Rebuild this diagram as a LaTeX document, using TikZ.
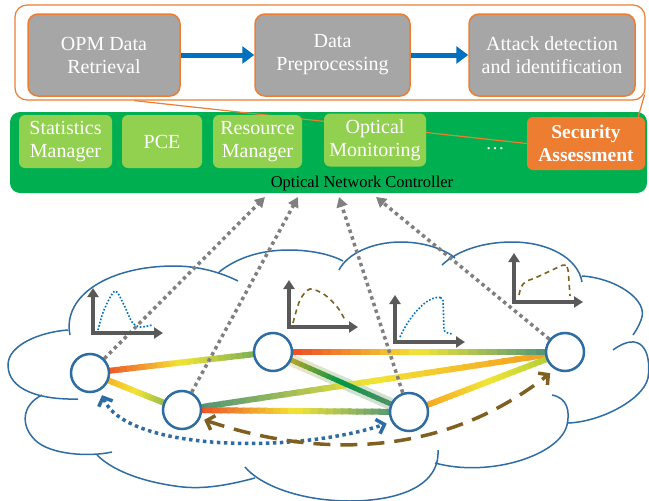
\documentclass[tikz,border=0pt]{standalone}
\usepackage{fontspec}
\setmainfont{Liberation Serif}
\usepackage{xcolor}
\usepackage{tikz}
\usetikzlibrary{positioning}
\usetikzlibrary{calc}
\usetikzlibrary{backgrounds}
\usetikzlibrary{arrows.meta}
\tikzset{>=stealth}
\definecolor{boxgray}{HTML}{A6A6A6}
\definecolor{secorange}{HTML}{ED7D31}
\definecolor{flowblue}{HTML}{0070C0}
\definecolor{ctrlgreen}{HTML}{00B050}
\definecolor{modgreen}{HTML}{92D050}
\definecolor{cloudblue}{HTML}{2E6CA4}
\definecolor{axisgray}{HTML}{595959}
\definecolor{tracebrown}{HTML}{7F6020}
\definecolor{dotgray}{HTML}{808080}
\definecolor{lkred}{HTML}{EE3124}
\definecolor{lkorange}{HTML}{F7941D}
\definecolor{lkyellow}{HTML}{F2E534}
\definecolor{lkgreen}{HTML}{5FA35C}
\definecolor{lkteal}{HTML}{3A8A80}
\definecolor{lklime}{HTML}{A3C93A}
\definecolor{lkgray}{HTML}{6E8F72}
\colorlet{haloorange}{lkorange!25}
\colorlet{halogreen}{lkgreen!30}
\colorlet{halogray}{lkgray!30}
\colorlet{blurorange}{lkorange!70!lkyellow}
\colorlet{blurgreen}{ctrlgreen!85!black}
\tikzstyle{graybox} = [draw=secorange, line width=1.5pt, fill=boxgray, rounded corners=10pt,
  text=white, align=center, font=\fontsize{20}{23}\selectfont, minimum height=82pt, inner sep=2pt]
\tikzstyle{modbox} = [fill=modgreen, rounded corners=6pt, text=white, align=center,
  font=\fontsize{20}{23}\selectfont, minimum height=53pt, inner sep=1pt]
\tikzstyle{secbox} = [modbox, fill=secorange, font=\bfseries\fontsize{19.5}{23}\selectfont]
\tikzstyle{netnode} = [circle, draw=cloudblue, line width=2.5pt, fill=white, minimum size=38pt, inner sep=0pt]
\tikzstyle{flow} = [draw=flowblue, line width=5pt, -{Triangle[length=12pt,width=17pt]}]
\tikzstyle{report} = [draw=dotgray, line width=3.5pt, dash pattern=on 3.5pt off 3.5pt,
  -{Triangle[length=10pt,width=11pt]}]
\tikzstyle{callout} = [draw=secorange, line width=1.2pt]
\tikzstyle{linkseg} = [line width=6pt]
\tikzstyle{plotaxes} = [draw=axisgray, line width=4pt, miter limit=10,
  {Triangle[length=9pt,width=11pt]}-{Triangle[length=9pt,width=11pt]}]
\tikzstyle{bluetrace} = [draw=flowblue, line width=1.6pt, dash pattern=on 1.6pt off 1.8pt]
\tikzstyle{browntrace} = [draw=tracebrown, line width=1.6pt, dash pattern=on 5pt off 4pt]
\tikzstyle{cloudline} = [draw=cloudblue, line width=1.5pt]
\tikzstyle{bluepath} = [draw=cloudblue, line width=3.5pt, dash pattern=on 3.5pt off 3.5pt,
  {Straight Barb[length=7pt,width=15pt]}-{Straight Barb[length=7pt,width=15pt]}]
\tikzstyle{brownpath} = [draw=tracebrown, line width=3.5pt, dash pattern=on 17pt off 10pt,
  {Straight Barb[length=7pt,width=15pt]}-{Straight Barb[length=7pt,width=15pt]}]

%% colour-graded link between two nodes (3 colour stops)
\newcommand{\gradlink}[6][]{%
  \foreach \k in {0,...,29}{%
    \pgfmathsetmacro\ta{\k/30}%
    \pgfmathsetmacro\tb{(\k+1.3)/30}%
    \ifnum\k<15
      \pgfmathtruncatemacro\pc{100-(\k+0.5)*100/15}%
      \colorlet{segc}{#4!\pc!#5}%
    \else
      \pgfmathtruncatemacro\pc{100-(\k-14.5)*100/15}%
      \colorlet{segc}{#5!\pc!#6}%
    \fi
    \draw[linkseg, draw=segc, #1] ($(#2)!\ta!(#3)$) -- ($(#2)!\tb!(#3)$);
  }}

\begin{document}
\begin{tikzpicture}[x=1pt, y=-1pt]
  \useasboundingbox (0,0) rectangle (649,501);
  %% Controller
  \node [fill=ctrlgreen, rounded corners=10pt, minimum width=637pt, minimum height=81pt] (ctrl) at (328.5,152.5) {};
  \node [font=\fontsize{16.5}{18}\selectfont] (ctrlname) at (362,184) {Optical Network Controller};
  %% Security assessment zoom box
  \node [draw=secorange, line width=1.2pt, fill=white, rounded corners=12pt,
    minimum width=630pt, minimum height=95pt] (outer) at (330,52.5) {};
  \node [graybox, minimum width=152pt] (retrieve) at (104,55) {OPM Data\\Retrieval};
  \node [graybox, minimum width=155pt] (prep) at (332.5,55) {Data\\Preprocessing};
  \node [graybox, minimum width=166pt] (detect) at (552,55) {Attack detection\\and identification};
  \draw [flow] (retrieve) -- (prep);
  \draw [flow] (prep) -- (detect);
  \node [secbox, minimum width=118pt] (sec) at (586,143.5) {Security\\Assessment};
  \draw [callout] ($(outer.south west)!0.19!(outer.south east)$) -- (sec.west);
  \draw [callout] ([xshift=-1pt,yshift=6pt]outer.south east) -- ([xshift=-7pt]sec.north east);
  %% Modules
  \node [modbox, minimum width=93pt] (stats) at (65.5,141.5) {Statistics\\Manager};
  \node [modbox, minimum width=80pt] (pce) at (162,141.5) {PCE};
  \node [modbox, minimum width=89pt] (res) at (257.5,141.5) {Resource\\Manager};
  \node [modbox, minimum width=102pt] (mon) at (375,140) {Optical\\Monitoring};
  \node [text=white, font=\fontsize{19}{23}\selectfont] (more) at (495,149) {\dots};

  %% Network
  \node [netnode] (A) at (90,373) {};
  \node [netnode] (B) at (273,352) {};
  \node [netnode] (C) at (182,410) {};
  \node [netnode] (D) at (409,412) {};
  \node [netnode] (E) at (565,352) {};
  \begin{pgfonlayer}{background}
    \draw [cloudline]
      (70,335) .. controls (62,295) and (110,266) .. (174,266) .. controls (200,266) and (222,273) .. (238,281)
      (219,272) .. controls (238,257) and (262,250) .. (289,250) .. controls (312,250) and (332,255) .. (343,261)
      (339,270) .. controls (347,254) and (372,242) .. (401,242) .. controls (425,242) and (446,250) .. (455,258)
      (442,265) .. controls (458,250) and (484,242) .. (512,242) .. controls (548,242) and (578,258) .. (582,282)
      (582,276) .. controls (615,278) and (650,300) .. (641,320) .. controls (638,328) and (635,332) .. (633,335)
      (613,350) .. controls (640,330) and (652,350) .. (648,378) .. controls (643,400) and (600,422) .. (568,423)
      (552,395) .. controls (568,398) and (570,412) .. (567,425) .. controls (560,455) and (490,478) .. (435,463)
      (438,450) .. controls (440,490) and (390,501) .. (350,501) .. controls (300,501) and (260,485) .. (245,467)
      (255,478) .. controls (225,486) and (200,490) .. (175,486) .. controls (140,481) and (112,470) .. (97,455)
      (112,452) .. controls (90,457) and (50,455) .. (35,440) .. controls (20,425) and (22,405) .. (42,395)
      (78,399) .. controls (40,400) and (8,390) .. (8,365) .. controls (8,345) and (40,332) .. (68,330);
    \gradlink[line width=12pt]{B}{D}{haloorange}{halogreen}{halogray}
    \gradlink{A}{B}{lkred}{lkyellow}{lkgreen}
    \gradlink{A}{C}{lkorange}{lkyellow}{lkgreen}
    \gradlink{C}{E}{lkteal}{lkyellow}{lkorange}
    \gradlink{C}{D}{lkred}{lkyellow}{lkteal}
    \gradlink{B}{E}{lkred}{lkyellow}{lkteal}
    \gradlink{D}{E}{lkorange}{lkyellow}{lklime}
    \gradlink[line width=5pt]{B}{D}{blurorange}{blurgreen}{lkgray}
  \end{pgfonlayer}

  %% Monitoring reports
  \coordinate (r1) at (265,197);
  \coordinate (r2) at (298,197);
  \coordinate (r3) at (339,197);
  \coordinate (r4) at (376,197);
  \draw [report] (A) -- (r1);
  \draw [report] (C) -- (r2);
  \draw [report] (D) -- (r3);
  \draw [report] (E) -- (r4);

  %% Spectra
  \draw [plotaxes] (93,288) -- (93,333) -- (163,333);
  \draw [bluetrace] plot[smooth] coordinates {(98,330) (104,310) (115,291) (124,305) (132,322) (140,327) (152,325)};
  \draw [plotaxes] (289,280) -- (289,327) -- (358,327);
  \draw [browntrace] plot[smooth] coordinates {(293,323) (300,300) (310,289) (325,295) (338,308) (345,320)};
  \draw [plotaxes] (395,295) -- (395,342) -- (465,342);
  \draw [bluetrace, rounded corners=3pt] (400,337) .. controls (410,315) and (425,300) .. (438,297) -- (443,298) -- (444,332) -- (452,334);
  \draw [plotaxes] (514,253) -- (514,302) -- (583,302);
  \draw [browntrace, rounded corners=3pt] (519,295) .. controls (521,284) and (525,281) .. (533,279) -- (565,264) -- (568,268) -- (570,296);

  %% Flows between nodes
  \draw [bluepath, shorten <=5pt, shorten >=5pt] (A.-60) .. controls (125,450) and (290,455) .. (D.210);
  \draw [brownpath, shorten <=4pt, shorten >=6pt] (C.-25) .. controls (330,462) and (450,452) .. (E.240);
\end{tikzpicture}
\end{document}
